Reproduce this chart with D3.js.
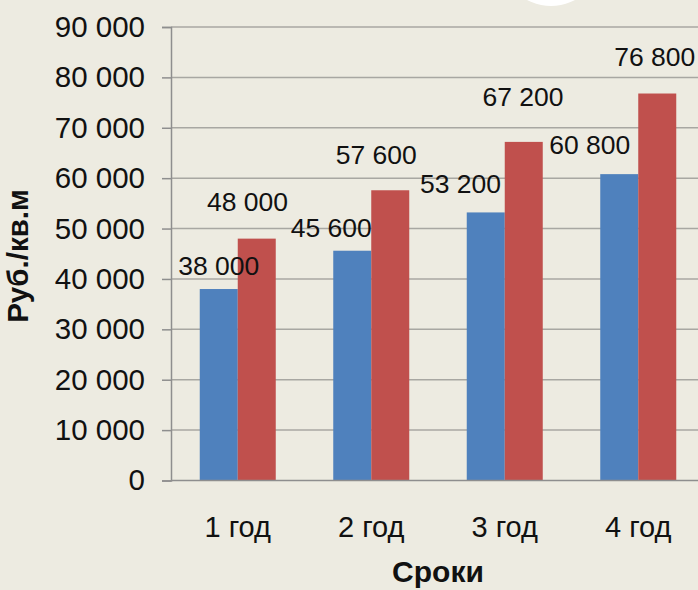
<!DOCTYPE html>
<html>
<head>
<meta charset="utf-8">
<script src="https://cdn.jsdelivr.net/npm/d3@7"></script>
<style>
  html, body { margin: 0; padding: 0; background: #EDEBE1; }
  svg { display: block; }
  text { font-family: "Liberation Sans", Arial, sans-serif; fill: #111; }
</style>
</head>
<body>
<svg id="chart" width="698" height="590"></svg>
<script>
// Price per square metre by term
const categories = ["1 год", "2 год", "3 год", "4 год"];
const seriesA = [38000, 45600, 53200, 60800];
const seriesB = [48000, 57600, 67200, 76800];
const yTicks = [0, 10000, 20000, 30000, 40000, 50000, 60000, 70000, 80000, 90000];
const xTitle = "Сроки";
const yTitle = "Руб./кв.м";

const W = 698, H = 590;
const plot = { left: 171, right: 705, top: 27, bottom: 480.5 };
const colors = ["#4F81BD", "#C0504D"];

// hand-placed offsets of the value labels (dx, dy from bar centre / bar top)
const labelNudge = [
  [[0, -14], [-21, -13.4], [-25.3, -19.7], [-29.5, -19.8]],
  [[-9.3, -27.9], [-14, -26.3], [-0.7, -35.9], [-2.5, -27.5]]
];

const fmt = v => d3.format(",")(v).replace(/,/g, " ");

const svg = d3.select("#chart");

const x = d3.scaleBand().domain(categories).range([plot.left, plot.right]);
const y = d3.scaleLinear().domain([0, 90000]).range([plot.bottom, plot.top]);
const barW = 38;

// decorative white disc at the top edge
svg.append("circle").attr("cx", 551).attr("cy", -45).attr("r", 51).attr("fill", "#ffffff");

// gridlines
svg.append("g").selectAll("line").data(yTicks.filter(t => t > 0)).join("line")
  .attr("x1", plot.left).attr("x2", W + 10)
  .attr("y1", d => y(d)).attr("y2", d => y(d))
  .attr("stroke", "#A8A7A2").attr("stroke-width", 1.5);

// y axis
const yAxis = d3.axisLeft(y).tickValues(yTicks).tickSize(9).tickPadding(17).tickFormat(fmt);
const gy = svg.append("g").attr("transform", `translate(${plot.left},0)`).call(yAxis);
gy.select(".domain").attr("stroke", "#8E8E8E").attr("stroke-width", 1.5);
gy.selectAll(".tick line").attr("stroke", "#8E8E8E").attr("stroke-width", 1.5);
gy.selectAll(".tick text")
  .style("font-size", "29.5px").attr("fill", "#111")
  .style("font-family", "'Liberation Sans', Arial, sans-serif");

// bars
const series = [seriesA, seriesB];
series.forEach((vals, si) => {
  svg.append("g").selectAll("rect").data(vals).join("rect")
    .attr("x", (d, i) => x(categories[i]) + x.bandwidth() / 2 - barW + si * barW)
    .attr("y", d => y(d))
    .attr("width", barW)
    .attr("height", d => y(0) - y(d))
    .attr("fill", colors[si]);
});

// x axis baseline
const xAxis = d3.axisBottom(x).tickSize(0).tickPadding(0);
const gx = svg.append("g").attr("transform", `translate(0,${plot.bottom})`).call(xAxis);
gx.select(".domain").attr("stroke", "#8E8E8E").attr("stroke-width", 1.5)
  .attr("d", `M${plot.left},0H${W + 10}`);
gx.selectAll(".tick text")
  .attr("dy", null).attr("y", 56)
  .style("font-size", "29px").attr("fill", "#111")
  .style("font-family", "'Liberation Sans', Arial, sans-serif");

// value labels
series.forEach((vals, si) => {
  svg.append("g").selectAll("text").data(vals).join("text")
    .attr("x", (d, i) => x(categories[i]) + x.bandwidth() / 2 - barW / 2 + si * barW + labelNudge[si][i][0])
    .attr("y", (d, i) => y(d) + labelNudge[si][i][1])
    .attr("text-anchor", "middle")
    .style("font-size", "26.5px")
    .text(d => fmt(d));
});

// axis titles
svg.append("text")
  .attr("x", (plot.left + plot.right) / 2).attr("y", 582)
  .attr("text-anchor", "middle")
  .style("font-size", "30px").style("font-weight", "bold")
  .text(xTitle);

svg.append("text")
  .attr("transform", "translate(28,256) rotate(-90)")
  .attr("text-anchor", "middle")
  .style("font-size", "29.5px").style("font-weight", "bold")
  .text(yTitle);
</script>
</body>
</html>
